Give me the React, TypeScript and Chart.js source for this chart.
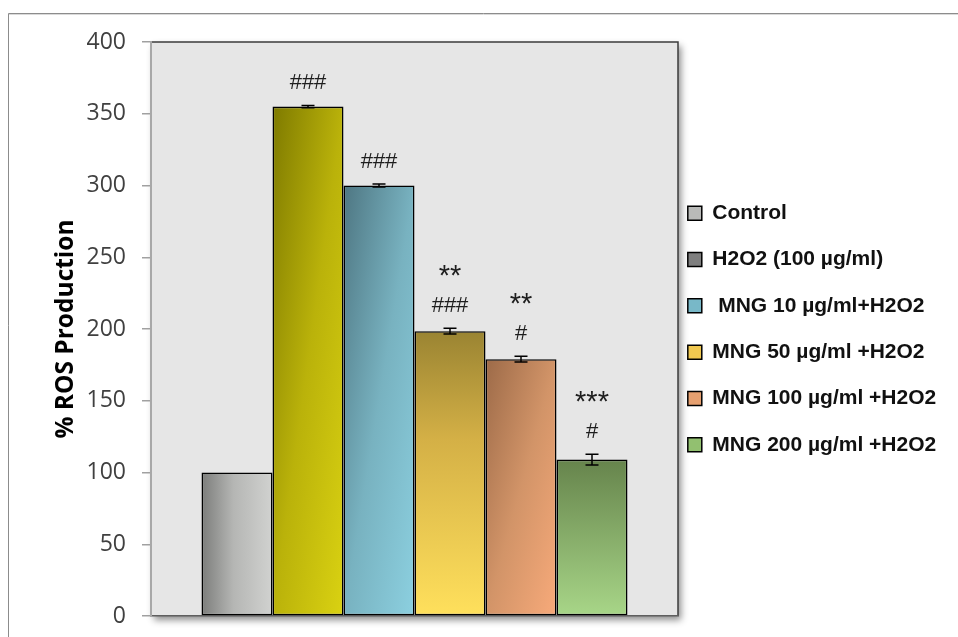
import React, { useEffect, useRef } from 'react';
import { Chart, registerables } from 'chart.js';

Chart.register(...registerables);

// ---------- data ----------
const categories = [''];
const seriesNames = [
  'Control',
  'H2O2 (100 µg/ml)',
  ' MNG 10 µg/ml+H2O2',
  'MNG 50 µg/ml +H2O2',
  'MNG 100 µg/ml +H2O2',
  'MNG 200 µg/ml +H2O2',
];
const rosValues = [100, 355, 300, 198.5, 179, 109];
const rosErrors = [0, 0.8, 1, 2, 2, 3.8];
const significance: string[][] = [[], ['###'], ['###'], ['**', '###'], ['**', '#'], ['***', '#']];
const yTickValues = [0, 50, 100, 150, 200, 250, 300, 350, 400];
const yTitle = '% ROS Production';

// ---------- styles ----------
const CAT_PCT = 426 / 527;
const legendColors = ['#b9bab8', '#7f7f7f', '#78b8c8', '#f0c850', '#e6a070', '#92c070'];
type Kind = 'h' | 'v' | 'd';
const barGradKinds: Kind[] = ['h', 'd', 'd', 'v', 'd', 'v'];
const barGradStops: [number, string][][] = [
  [[0, '#7c7d7b'], [0.45, '#b5b6b4'], [1, '#d1d2d0']],
  [[0, '#7e7a00'], [0.5, '#bab20a'], [1, '#dad212']],
  [[0, '#4e7682'], [0.5, '#78b2c0'], [1, '#8cd0e0']],
  [[0, '#9a8432'], [0.38, '#d4b046'], [1, '#ffe05c']],
  [[0, '#9c6a48'], [0.5, '#d29468'], [1, '#f8aa7a']],
  [[0, '#66844c'], [1, '#a8d688']],
];

function barRect(chart: any, i: number) {
  const xs = chart.scales?.x;
  const ys = chart.scales?.y;
  if (!xs || !ys || !chart.chartArea) return null;
  const center = xs.getPixelForValue(0);
  const catW = xs.width / categories.length;
  const groupW = catW * CAT_PCT;
  const bw = groupW / rosValues.length;
  const left = center - groupW / 2 + i * bw;
  const top = ys.getPixelForValue(rosValues[i]);
  const bottom = ys.getPixelForValue(0);
  return { left, top, w: bw, h: Math.max(1, bottom - top) };
}

function barFill(chart: any, i: number) {
  const r = barRect(chart, i);
  if (!r || !isFinite(r.left) || !isFinite(r.top)) return legendColors[i];
  const ctx = chart.ctx as CanvasRenderingContext2D;
  let g: CanvasGradient;
  const kind = barGradKinds[i];
  if (kind === 'h') g = ctx.createLinearGradient(r.left, 0, r.left + r.w, 0);
  else if (kind === 'v') g = ctx.createLinearGradient(0, r.top, 0, r.top + r.h);
  else {
    const c = (2 * r.w * r.h) / (r.w * r.w + r.h * r.h);
    g = ctx.createLinearGradient(r.left, r.top, r.left + r.h * c, r.top + r.w * c);
  }
  barGradStops[i].forEach(([o, col]) => g.addColorStop(o, col));
  return g;
}

const backgroundPlugin = {
  id: 'plotBackground',
  beforeDraw(chart: any) {
    const { ctx, chartArea: a } = chart;
    if (!a) return;
    ctx.save();
    // outer frame (top and left)
    ctx.strokeStyle = '#8c8c8c';
    ctx.lineWidth = 1;
    ctx.beginPath();
    ctx.moveTo(8.5, chart.height);
    ctx.lineTo(8.5, 13.5);
    ctx.lineTo(chart.width, 13.5);
    ctx.stroke();
    ctx.strokeStyle = '#dadada';
    ctx.beginPath();
    ctx.moveTo(9, 14.5);
    ctx.lineTo(chart.width, 14.5);
    ctx.stroke();
    // plot area with shadow
    ctx.shadowColor = 'rgba(0,0,0,0.45)';
    ctx.shadowBlur = 7;
    ctx.shadowOffsetX = 3;
    ctx.shadowOffsetY = 4;
    ctx.fillStyle = '#e6e6e6';
    ctx.fillRect(a.left, a.top, a.right - a.left, a.bottom - a.top);
    ctx.restore();
    ctx.save();
    ctx.strokeStyle = '#3c3c3c';
    ctx.lineWidth = 1.5;
    ctx.beginPath();
    ctx.moveTo(a.left, a.top);
    ctx.lineTo(a.right, a.top);
    ctx.lineTo(a.right, a.bottom);
    ctx.stroke();
    ctx.restore();
  },
};

const errorLabelPlugin = {
  id: 'errorLabels',
  afterDatasetsDraw(chart: any) {
    const ctx = chart.ctx as CanvasRenderingContext2D;
    const ys = chart.scales.y;
    chart.data.datasets.forEach((_ds: any, i: number) => {
      const el = chart.getDatasetMeta(i).data[0];
      if (!el) return;
      const x = el.x;
      const v = rosValues[i];
      const e = rosErrors[i];
      ctx.save();
      if (e > 0) {
        const yT = ys.getPixelForValue(v + e);
        const yB = ys.getPixelForValue(v - e);
        ctx.strokeStyle = '#000';
        ctx.lineWidth = 1.5;
        ctx.beginPath();
        ctx.moveTo(x, yT);
        ctx.lineTo(x, yB);
        ctx.moveTo(x - 6.5, yT);
        ctx.lineTo(x + 6.5, yT);
        ctx.moveTo(x - 6.5, yB);
        ctx.lineTo(x + 6.5, yB);
        ctx.stroke();
      }
      const lines = significance[i];
      let cy = ys.getPixelForValue(v + e) - 24;
      ctx.fillStyle = '#1e1e1e';
      ctx.textAlign = 'center';
      ctx.textBaseline = 'alphabetic';
      for (let k = lines.length - 1; k >= 0; k--) {
        const t = lines[k];
        const star = t.includes('*');
        const fs = star ? 29 : 22;
        ctx.font = `${fs}px "Liberation Sans"`;
        ctx.fillText(t, x, cy + (star ? 0.577 : 0.35) * fs);
        cy -= 36;
      }
      ctx.restore();
    });
  },
};

const legendShiftPlugin = {
  id: 'legendShift',
  afterLayout(chart: any) {
    const lg = chart.legend;
    if (!lg) return;
    lg.left -= 15.5;
    lg.right = chart.width;
    lg.width = lg.right - lg.left;
  },
};

export default function App() {
  const ref = useRef<HTMLCanvasElement | null>(null);

  useEffect(() => {
    if (!ref.current) return;
    const chart = new Chart(ref.current, {
      type: 'bar',
      data: {
        labels: categories,
        datasets: seriesNames.map((name, i) => ({
          label: name,
          data: [rosValues[i]],
          backgroundColor: (c: any) => barFill(c.chart, i),
          borderColor: '#000',
          borderWidth: 1.6,
          borderSkipped: false,
          categoryPercentage: CAT_PCT,
          barPercentage: 1,
        })),
      },
      options: {
        responsive: false,
        animation: false,
        layout: { padding: { left: 51, top: 42, right: 30, bottom: 21 } },
        plugins: {
          tooltip: { enabled: false },
          legend: {
            position: 'right',
            align: 'center',
            maxWidth: 250,
            labels: {
              boxWidth: 14,
              boxHeight: 14,
              padding: 25.3,
              color: '#111',
              font: { family: 'Liberation Sans', size: 21, weight: 'bold' },
              generateLabels: () =>
                seriesNames.map((name, i) => ({
                  text: name,
                  fillStyle: legendColors[i],
                  strokeStyle: '#000',
                  lineWidth: 1.5,
                  hidden: false,
                  datasetIndex: i,
                  fontColor: '#111',
                })),
            },
          },
        },
        scales: {
          x: {
            type: 'category',
            offset: true,
            ticks: { display: false },
            grid: { display: false, drawTicks: false, tickLength: 0 },
            border: { display: true, color: '#5f5f5f', width: 1.5 },
          },
          y: {
            min: 0,
            max: 400,
            afterBuildTicks: (s: any) => {
              s.ticks = yTickValues.map((v) => ({ value: v }));
            },
            afterFit: (s: any) => {
              s.width = 100;
              s.paddingTop = 0;
              s.paddingBottom = 0;
            },
            ticks: {
              font: { family: 'Open Sans', size: 23 },
              color: '#404040',
              padding: 16,
            },
            grid: {
              drawOnChartArea: false,
              drawTicks: true,
              tickLength: 9,
              color: '#a0a0a0',
              lineWidth: 1.5,
            },
            border: { display: true, color: '#a8a8a8', width: 2 },
            title: {
              display: true,
              text: yTitle,
              color: '#000',
              font: { family: 'Open Sans', size: 24.5, weight: 'bold' },
              padding: { top: 0, bottom: 0 },
            },
          },
        },
      },
      plugins: [backgroundPlugin, errorLabelPlugin, legendShiftPlugin],
    } as any);
    return () => chart.destroy();
  }, []);

  return (
    <div style={{ position: 'fixed', left: 0, top: 0, width: 958, height: 637, background: '#fff' }}>
      <canvas ref={ref} width={958} height={637} style={{ display: 'block' }} />
    </div>
  );
}
